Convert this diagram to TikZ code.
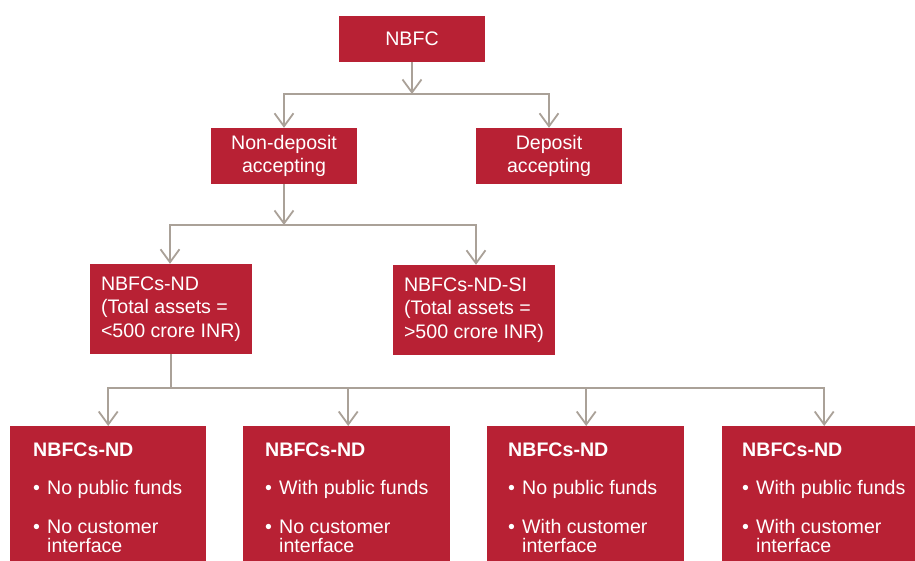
\documentclass[tikz,border=0pt]{standalone}
\usepackage{fontspec}
\setmainfont{Liberation Sans}
\usetikzlibrary{arrows.meta}
\definecolor{boxred}{RGB}{184,33,52}
\definecolor{linegrey}{RGB}{170,161,152}
\newcommand{\ndlist}[2]{\fontsize{19.6}{19}\selectfont\raggedright
  \rule{0pt}{30pt}\mbox{\textbf{NBFCs-ND}}\\[19pt]
  \mbox{\makebox[14pt][l]{•}#1}\\[20pt]
  \mbox{\makebox[14pt][l]{•}#2}\\
  \mbox{\hspace*{14pt}interface}}
\tikzset{
  box/.style={fill=boxred, text=white, draw=none, inner sep=0pt,
    font=\fontsize{19.6}{23.5}\selectfont},
  bottombox/.style={box, anchor=north west, minimum height=135pt},
  conn/.style={draw=linegrey, line width=1.8pt},
  arr/.style={conn, -{Straight Barb[length=13pt,width=19pt]}},
}
\begin{document}
\begin{tikzpicture}[x=1pt,y=-1pt]
\useasboundingbox (0,0) rectangle (915,561);

\node[box, minimum width=146pt, minimum height=46pt] (nbfc) at (412,39) {NBFC};
\node[box, minimum width=146pt, minimum height=56pt, align=center] (nondep) at (284,156) {Non-deposit\\accepting};
\node[box, minimum width=146pt, minimum height=56pt, align=center] (dep) at (549,156) {Deposit\\accepting};
\node[box, minimum width=162pt, minimum height=90pt, align=left] (nd) at (171,309) {NBFCs-ND\\(Total assets =\\<500 crore INR)};
\node[box, minimum width=162pt, minimum height=90pt, align=left] (ndsi) at (474,310) {NBFCs-ND-SI\\(Total assets =\\>500 crore INR)};

\node[bottombox, minimum width=196pt] (b1) at (10,426)
  {\parbox[c][135pt][t]{150pt}{\ndlist{No public funds}{No customer}}};
\node[bottombox, minimum width=207pt] (b2) at (243,426)
  {\parbox[c][135pt][t]{163pt}{\ndlist{With public funds}{No customer}}};
\node[bottombox, minimum width=197pt] (b3) at (487,426)
  {\parbox[c][135pt][t]{155pt}{\ndlist{No public funds}{With customer}}};
\node[bottombox, minimum width=193pt] (b4) at (722,426)
  {\parbox[c][135pt][t]{153pt}{\ndlist{With public funds}{With customer}}};

\coordinate (j1) at (412,94);
\draw[arr] (nbfc.south) -- (j1);
\draw[arr] (j1) -| (nondep.north);
\draw[arr] (j1) -| (dep.north);

\coordinate (j2) at (284,225);
\draw[arr] (nondep.south) -- (j2);
\draw[arr] (j2) -| ([xshift=-1pt]nd.north);
\draw[arr] (j2) -| ([xshift=2pt]ndsi.north);

\coordinate (j3) at (171,388);
\draw[conn] (nd.south) -- (j3);
\draw[arr] (j3) -| (b1.north);
\draw[arr] (j3) -| ([xshift=1.5pt]b2.north);
\draw[arr] (j3) -| ([xshift=0.5pt]b3.north);
\draw[arr] (j3) -| ([xshift=5.5pt]b4.north);
\end{tikzpicture}
\end{document}
